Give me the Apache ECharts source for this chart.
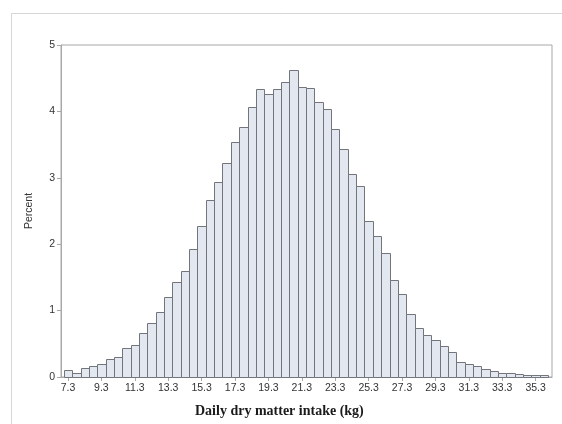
<!DOCTYPE html>
<html>
<head>
    <meta charset="utf-8" />
    <title>Daily dry matter intake</title>
    <script src="https://cdn.jsdelivr.net/npm/echarts@6/dist/echarts.min.js"></script>
    <style>
        html, body { margin: 0; padding: 0; background: #fff; }
        #main { width: 562px; height: 424px; }
    </style>
</head>
<body>
    <div id="main"></div>
    <script type="text/javascript">
        // bin midpoints (kg), bin width 0.5
        var binCenters = [7.3, 7.8, 8.3, 8.8, 9.3, 9.8, 10.3, 10.8, 11.3, 11.8,
            12.3, 12.8, 13.3, 13.8, 14.3, 14.8, 15.3, 15.8, 16.3, 16.8,
            17.3, 17.8, 18.3, 18.8, 19.3, 19.8, 20.3, 20.8, 21.3, 21.8,
            22.3, 22.8, 23.3, 23.8, 24.3, 24.8, 25.3, 25.8, 26.3, 26.8,
            27.3, 27.8, 28.3, 28.8, 29.3, 29.8, 30.3, 30.8, 31.3, 31.8,
            32.3, 32.8, 33.3, 33.8, 34.3, 34.8, 35.3, 35.8];
        var percent = [0.105, 0.055, 0.13, 0.16, 0.195, 0.275, 0.305, 0.43, 0.48, 0.66,
            0.82, 0.98, 1.205, 1.43, 1.60, 1.93, 2.28, 2.66, 2.94, 3.23,
            3.54, 3.76, 4.07, 4.33, 4.26, 4.33, 4.45, 4.62, 4.36, 4.35,
            4.14, 4.03, 3.73, 3.44, 3.06, 2.87, 2.35, 2.12, 1.87, 1.455,
            1.25, 0.95, 0.74, 0.64, 0.55, 0.46, 0.37, 0.23, 0.19, 0.17,
            0.12, 0.09, 0.065, 0.065, 0.04, 0.035, 0.025, 0.025];
        var xTicks = [7.3, 9.3, 11.3, 13.3, 15.3, 17.3, 19.3, 21.3, 23.3, 25.3, 27.3, 29.3, 31.3, 33.3, 35.3];
        var binWidth = 0.5;

        var data = [];
        for (var i = 0; i < binCenters.length; i++) {
            data.push([binCenters[i], percent[i]]);
        }

        var myChart = echarts.init(document.getElementById('main'), null, { renderer: 'canvas' });
        var frameColor = '#a8a8a8';
        var option = {
            backgroundColor: '#fff',
            animation: false,
            grid: {
                left: 61, top: 45, right: 10, bottom: 47,
                show: true, borderColor: frameColor, borderWidth: 1
            },
            xAxis: {
                type: 'value',
                min: 6.88,
                max: 36.28,
                axisLine: { show: true, lineStyle: { color: frameColor } },
                axisTick: { show: true, length: 4, customValues: xTicks, lineStyle: { color: frameColor } },
                axisLabel: {
                    customValues: xTicks,
                    margin: 6,
                    fontFamily: 'Liberation Sans',
                    fontSize: 10.5,
                    color: '#333',
                    formatter: function (v) { return v.toFixed(1); }
                },
                splitLine: { show: false }
            },
            yAxis: {
                type: 'value',
                min: 0,
                max: 5,
                interval: 1,
                name: 'Percent',
                nameLocation: 'middle',
                nameGap: 26,
                nameTextStyle: { fontFamily: 'Liberation Sans', fontSize: 10.5, color: '#333' },
                axisLine: { show: true, lineStyle: { color: frameColor } },
                axisTick: { show: true, length: 4, lineStyle: { color: frameColor } },
                axisLabel: { margin: 6, fontFamily: 'Liberation Sans', fontSize: 10.5, color: '#333' },
                splitLine: { show: false }
            },
            graphic: [
                { type: 'line', silent: true, shape: { x1: 11.5, y1: 13.5, x2: 562, y2: 13.5 }, style: { stroke: '#d6d6d6', lineWidth: 1 } },
                { type: 'line', silent: true, shape: { x1: 11.5, y1: 13.5, x2: 11.5, y2: 424 }, style: { stroke: '#d6d6d6', lineWidth: 1 } },
                {
                    type: 'text', silent: true, left: 195, top: 404,
                    style: {
                        text: 'Daily dry matter intake (kg)',
                        fontFamily: 'Liberation Serif',
                        fontWeight: 'bold',
                        fontSize: 14,
                        fill: '#1a1a1a'
                    }
                }
            ],
            series: [{
                type: 'custom',
                data: data,
                renderItem: function (params, api) {
                    var x = api.value(0);
                    var y = api.value(1);
                    var p0 = api.coord([x - binWidth / 2, y]);
                    var p1 = api.coord([x + binWidth / 2, 0]);
                    return {
                        type: 'rect',
                        shape: {
                            x: Math.round(p0[0]) + 0.5,
                            y: Math.round(p0[1]) + 0.5,
                            width: Math.round(p1[0]) - Math.round(p0[0]),
                            height: Math.round(p1[1]) - Math.round(p0[1])
                        },
                        style: { fill: '#e3e7f0', stroke: '#73757d', lineWidth: 1 }
                    };
                }
            }]
        };
        myChart.setOption(option);
    </script>
</body>
</html>
